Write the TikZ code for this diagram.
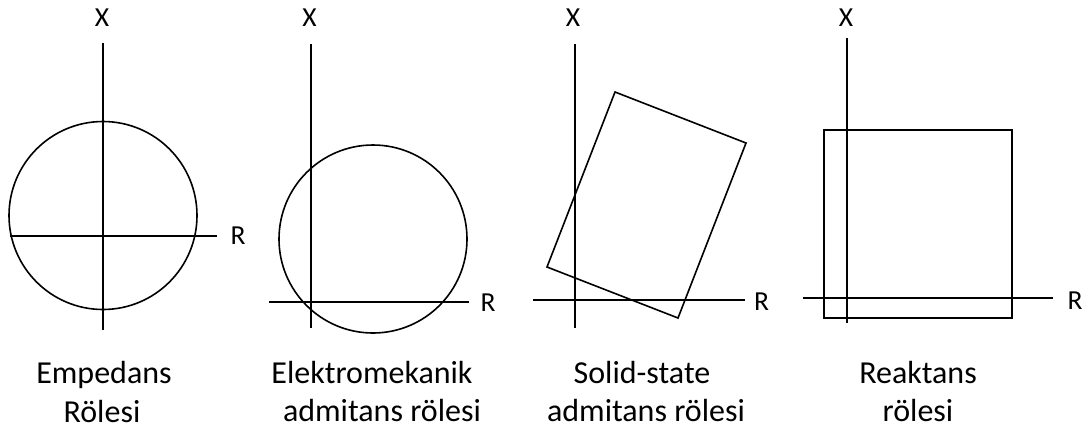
\documentclass[tikz,border=0pt]{standalone}
\usepackage{fontspec}
\setmainfont{Carlito}
\begin{document}
\begin{tikzpicture}[x=1pt,y=-1pt,
  axisline/.style={line width=1.6pt, draw=black},
  shapeline/.style={line width=1.6pt, draw=black},
  axlabel/.style={font=\fontsize{27.5}{32}\selectfont, inner sep=0pt},
  caption/.style={font=\fontsize{32}{38}\selectfont, anchor=base, inner sep=0pt}]
\useasboundingbox (0,0) rectangle (1091,432);

% ---------- Panel 1: Empedans ----------
\coordinate (v1t) at (103,43);  \coordinate (v1b) at (103,330);
\coordinate (h1l) at (10,236);  \coordinate (h1r) at (217,236);
\draw[axisline] (v1t) -- (v1b);
\draw[axisline] (h1l) -- (h1r);
\draw[shapeline] (103,215.5) circle[radius=94pt];
\node[axlabel] (X1) at (102,18) {X};
\node[axlabel] (R1) at (238,235.5) {R};
\node[caption] (c1a) at (104,383) {Empedans};
\node[caption] (c1b) at (102,422) {Rölesi};

% ---------- Panel 2: Elektromekanik admitans ----------
\coordinate (v2t) at (310.7,44); \coordinate (v2b) at (310.7,328);
\coordinate (h2l) at (269,302);  \coordinate (h2r) at (469,302);
\draw[axisline] (v2t) -- (v2b);
\draw[axisline] (h2l) -- (h2r);
\draw[shapeline] (373,239) circle[radius=94pt];
\node[axlabel] (X2) at (309.5,18) {X};
\node[axlabel] (R2) at (488,302.5) {R};
\node[caption] (c2a) at (372,383) {Elektromekanik};
\node[caption] (c2b) at (382,421) {admitans rölesi};

% ---------- Panel 3: Solid-state admitans ----------
\coordinate (v3t) at (575,44);  \coordinate (v3b) at (575,328);
\coordinate (h3l) at (533,300); \coordinate (h3r) at (745,300);
\draw[axisline] (v3t) -- (v3b);
\draw[axisline] (h3l) -- (h3r);
\coordinate (p1) at (615,92);
\coordinate (p2) at (746,143);
\coordinate (p3) at (678,318);
\coordinate (p4) at (547,267);
\draw[shapeline] (p1) -- (p2) -- (p3) -- (p4) -- cycle;
\node[axlabel] (X3) at (573,18) {X};
\node[axlabel] (R3) at (761.5,302) {R};
\node[caption] (c3a) at (642,383) {Solid-state};
\node[caption] (c3b) at (646,421) {admitans rölesi};

% ---------- Panel 4: Reaktans ----------
\coordinate (v4t) at (847,38);  \coordinate (v4b) at (847,323);
\coordinate (h4l) at (803,298); \coordinate (h4r) at (1053,298);
\draw[axisline] (v4t) -- (v4b);
\draw[axisline] (h4l) -- (h4r);
\draw[shapeline] (824,130) rectangle (1012,318);
\node[axlabel] (X4) at (846,18) {X};
\node[axlabel] (R4) at (1075,301) {R};
\node[caption] (c4a) at (918,383) {Reaktans};
\node[caption] (c4b) at (918,421) {rölesi};
\end{tikzpicture}
\end{document}
